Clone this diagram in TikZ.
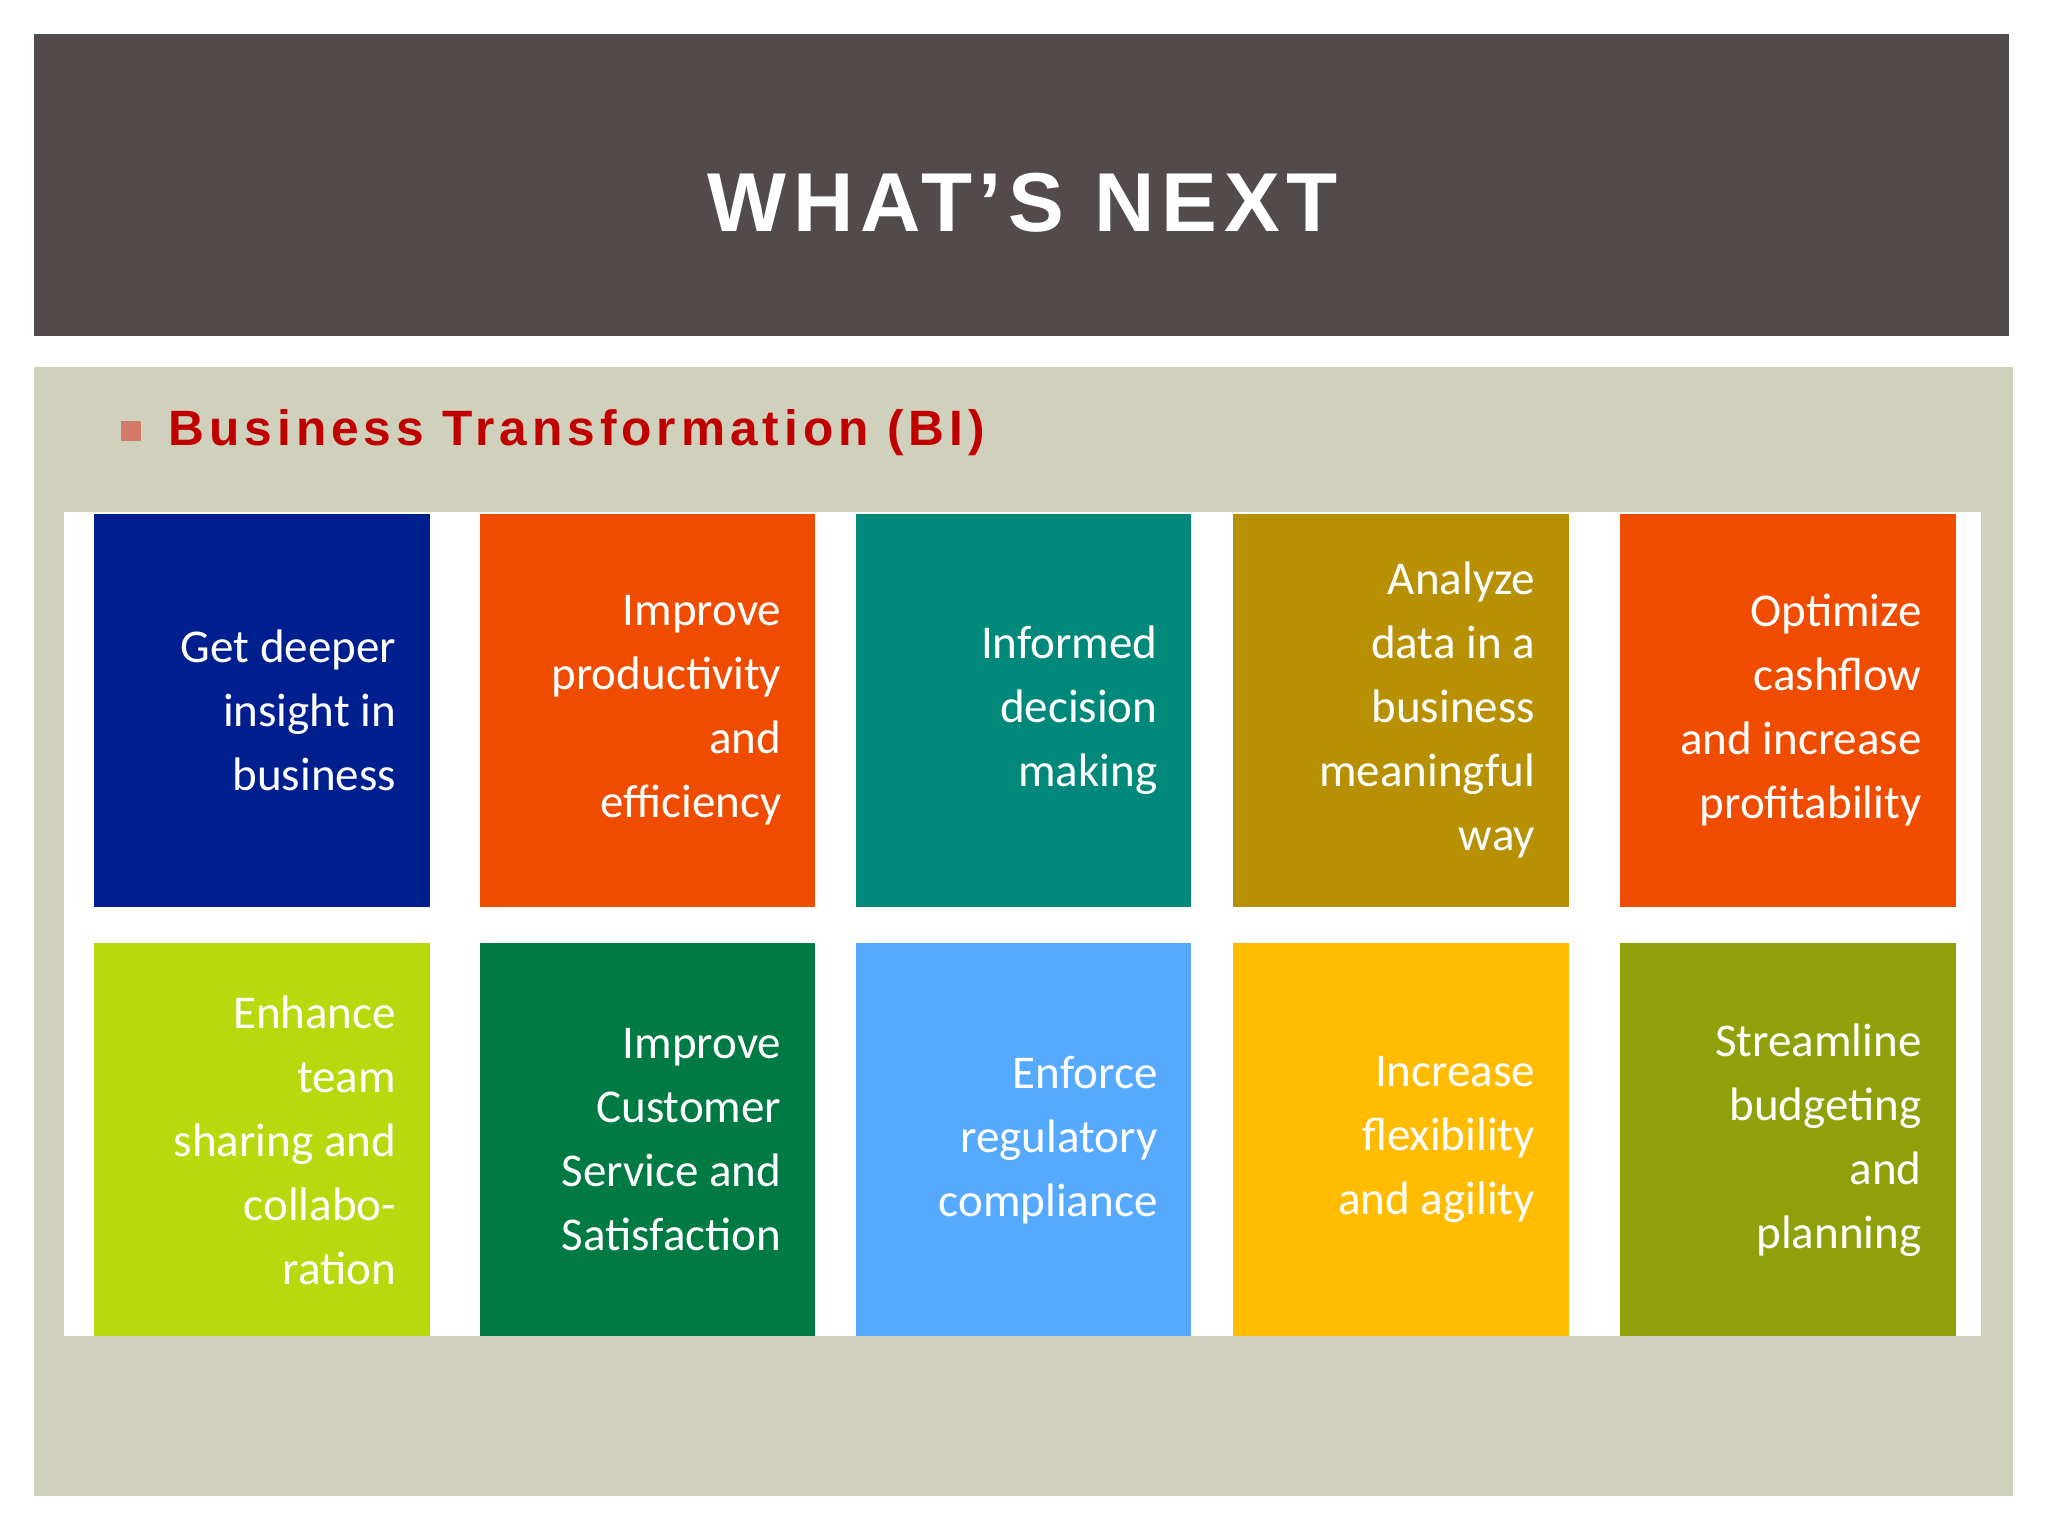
\documentclass[tikz,border=0pt]{standalone}
\usepackage{fontspec}
\setmainfont{Carlito}
\newfontfamily\titlefont[LetterSpace=8]{Liberation Sans}
\newfontfamily\subfont[LetterSpace=10]{Liberation Sans}
\definecolor{titlebg}{HTML}{534A4B}
\definecolor{bodybg}{HTML}{CFD1BC}
\definecolor{cA}{HTML}{001F8F}
\definecolor{cB}{HTML}{F04C00}
\definecolor{cC}{HTML}{00897A}
\definecolor{cD}{HTML}{B89004}
\definecolor{cE}{HTML}{B8D90E}
\definecolor{cF}{HTML}{007A43}
\definecolor{cG}{HTML}{55A9FF}
\definecolor{cH}{HTML}{FFBC00}
\definecolor{cI}{HTML}{8FA00B}
\definecolor{subred}{HTML}{C00000}
\definecolor{bullet}{HTML}{D27A66}
\tikzset{tile/.style={inner sep=0pt,minimum width=257pt,minimum height=301pt,anchor=north west},
 tiletext/.style={anchor=east,align=right,text=white,font=\fontsize{36}{49}\selectfont,inner sep=0pt}}
\begin{document}
\begin{tikzpicture}[x=1pt,y=-1pt]
\useasboundingbox (0,0) rectangle (1568,1176);
\fill[white] (0,0) rectangle (1568,1176);
\fill[titlebg] (26,26) rectangle (1538,257);
\node[text=white,font=\titlefont\fontsize{64}{70}\bfseries\selectfont] (title) at (783,155) {WHAT’S NEXT};
\fill[bodybg] (26,281) rectangle (1541,1145);
\fill[bullet] (93,322) rectangle (108,338);
\node[anchor=west,text=subred,font=\subfont\fontsize{38}{44}\bfseries\selectfont,inner sep=0pt] (sub) at (129,331) {Business Transformation (BI)};
\fill[white] (49,392) rectangle (1517,1023);
\foreach \x/\c/\n/\t in {72/cA/a/{Get deeper\\insight in\\business},
 367/cB/b/{Improve\\productivity\\and\\efficiency},
 655/cC/c/{Informed\\decision\\making},
 944/cD/d/{Analyze\\data in a\\business\\meaningful\\way},
 1240/cB/e/{Optimize\\cashflow\\and increase\\profitability}}{
 \node[tile,fill=\c] (\n) at (\x,393) {};
 \node[tiletext] (\n t) at ([xshift=-26pt]\n.east) {\t};
}
\foreach \x/\c/\n/\t in {72/cE/f/{Enhance\\team\\sharing and\\collabo-\\ration},
 367/cF/g/{Improve\\Customer\\Service and\\Satisfaction},
 655/cG/h/{Enforce\\regulatory\\compliance},
 944/cH/i/{Increase\\flexibility\\and agility},
 1240/cI/j/{Streamline\\budgeting\\and\\planning}}{
 \node[tile,fill=\c] (\n) at (\x,722) {};
 \node[tiletext] (\n t) at ([xshift=-26pt]\n.east) {\t};
}
\end{tikzpicture}
\end{document}
